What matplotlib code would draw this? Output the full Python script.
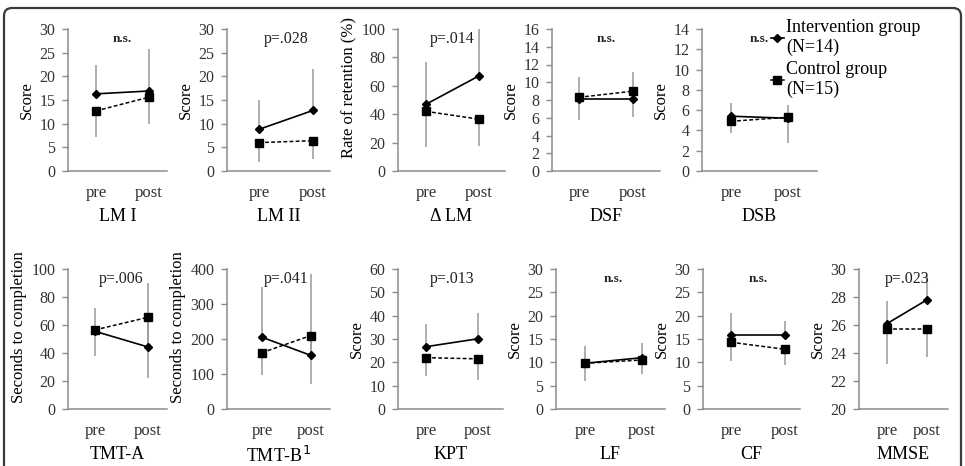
import matplotlib
matplotlib.use("Agg")
import matplotlib.pyplot as plt
import matplotlib.patches as mpatches
from matplotlib.lines import Line2D
from matplotlib.transforms import IdentityTransform

plt.rcParams['font.family'] = ['Liberation Serif', 'DejaVu Serif']

# --- data ---
names = ["LM I", "LM II", "\u0394 LM", "DSF", "DSB",
         "TMT-A", "TMT-B$^{1}$", "KPT", "LF", "CF", "MMSE"]
ylabels = ["Score", "Score", "Rate of retention (%)", "Score", "Score",
           "Seconds to completion", "Seconds to completion", "Score", "Score", "Score", "Score"]
pvals = ["n.s.", "p=.028", "p=.014", "n.s.", "n.s.",
         "p=.006", "p=.041", "p=.013", "n.s.", "n.s.", "p=.023"]
times = ["pre", "post"]

int_mean = [[16.3, 16.9], [8.8, 12.8], [47, 67], [8.1, 8.1], [5.4, 5.2],
            [55.5, 44.3], [205, 153], [26.7, 30.1], [9.8, 11.0], [15.8, 15.8], [26.1, 27.8]]
int_sd = [[6.1, 8.8], [6.2, 8.8], [30, 33], [2.5, 3.1], [1.3, 1.3],
          [16.8, 45.7], [143, 232], [9.6, 11.1], [3.6, 3.2], [4.7, 3.1], [1.6, 1.8]]
ctrl_mean = [[12.7, 15.6], [6.0, 6.4], [42, 36.5], [8.3, 9.0], [4.9, 5.3],
             [56.5, 65.5], [161, 210], [22.0, 21.5], [9.8, 10.5], [14.3, 12.8], [25.7, 25.7]]
ctrl_sd = [[5.6, 5.6], [4.0, 3.9], [25, 19], [2.6, 2.9], [1.2, 2.5],
           [18.8, 43.2], [64, 138], [8.0, 9.2], [3.7, 2.9], [4.1, 3.3], [2.5, 2.0]]
y_min = [0, 0, 0, 0, 0, 0, 0, 0, 0, 0, 20]
y_max = [30, 30, 100, 16, 14, 100, 400, 60, 30, 30, 30]
y_step = [5, 5, 20, 2, 2, 20, 100, 10, 5, 5, 2]

# --- layout in pixels: left, pre, post, right, top, bottom ---
layout = [
    (68, 96, 149, 167, 29, 171),
    (227, 259, 313, 330, 29, 171),
    (398, 426, 479, 505, 29, 171),
    (552, 579, 633, 660, 29, 171),
    (702, 731, 788, 817, 29, 171),
    (68, 95, 148, 167, 269, 409),
    (227, 262, 311, 330, 269, 409),
    (398, 426, 478, 503, 269, 409),
    (556, 585, 642, 665, 269, 409),
    (703, 731, 785, 800, 269, 409),
    (859, 887, 927, 948, 269, 409),
]

W, H = 965, 466
fig = plt.figure(figsize=(W / 100, H / 100), dpi=100)

gray = "#8c8c8c"
tick_col = "#333333"

for i in range(len(names)):
    L, pre, post, R, top, bot = layout[i]
    ax = fig.add_axes([L / W, (H - bot) / H, (R - L) / W, (bot - top) / H])
    s = post - pre
    ax.set_xlim(-(pre - L) / s, (R - pre) / s)
    ax.set_ylim(y_min[i], y_max[i])
    x = [0, 1]

    ax.errorbar(x, int_mean[i], yerr=[[0, 0], int_sd[i]], fmt='none',
                ecolor="#999999", elinewidth=1.1, capsize=0, zorder=1)
    ax.errorbar(x, ctrl_mean[i], yerr=[ctrl_sd[i], [0, 0]], fmt='none',
                ecolor="#999999", elinewidth=1.1, capsize=0, zorder=1)
    ax.plot(x, ctrl_mean[i], color='black', ls=(0, (2.5, 1.5)), lw=1.1,
            marker='s', ms=6, zorder=3)
    ax.plot(x, int_mean[i], color='black', ls='-', lw=1.2,
            marker='D', ms=4, zorder=4)

    ticks = list(range(y_min[i], y_max[i] + 1, y_step[i]))
    ax.set_yticks(ticks)
    ax.set_xticks(x)
    ax.set_xticklabels(times, fontsize=12, color=tick_col)
    ax.tick_params(axis='x', length=0, pad=10)
    ax.tick_params(axis='y', length=4, width=1, color=gray, labelsize=11.5,
                   labelcolor=tick_col, pad=5)
    for sp in ['top', 'right']:
        ax.spines[sp].set_visible(False)
    for sp in ['left', 'bottom']:
        ax.spines[sp].set_color(gray)
        ax.spines[sp].set_linewidth(1.1)
    ax.set_xlabel(names[i], fontsize=13, labelpad=5)
    # long y labels sit a little above the centre in the original
    ly = 0.585 if len(ylabels[i]) > 10 else 0.5
    ax.set_ylabel(ylabels[i], fontsize=12, labelpad=3, y=ly)
    fs = 9.5 if pvals[i] == "n.s." else 11.5
    fw = 'bold' if pvals[i] == "n.s." else 'normal'
    ax.text(0.5, 0.93, pvals[i], transform=ax.get_xaxis_transform(),
            ha='center', va='center', fontsize=fs, fontweight=fw, color='#222222')
    ax.patch.set_alpha(0)

handles = [Line2D([0], [0], color='black', lw=1.2, marker='D', ms=4),
           Line2D([0], [0], color='black', lw=1.1, marker='s', ms=5.5)]
fig.legend(handles, ["Intervention group\n(N=14)", "Control group\n(N=15)"],
           loc='upper left', bbox_to_anchor=(762 / W, 1 - 10 / H), frameon=False,
           fontsize=13, handlelength=0.7, handletextpad=0.15, labelspacing=0.3,
           borderpad=0)

border = mpatches.FancyBboxPatch((4, -20), W - 8, H - 4 + 20 - 4,
                                 boxstyle="round,pad=0,rounding_size=8",
                                 transform=IdentityTransform(), fill=False,
                                 edgecolor="#3a3a3a", lw=1.6)
fig.patches.append(border)

fig.savefig("out.png", dpi=100)
